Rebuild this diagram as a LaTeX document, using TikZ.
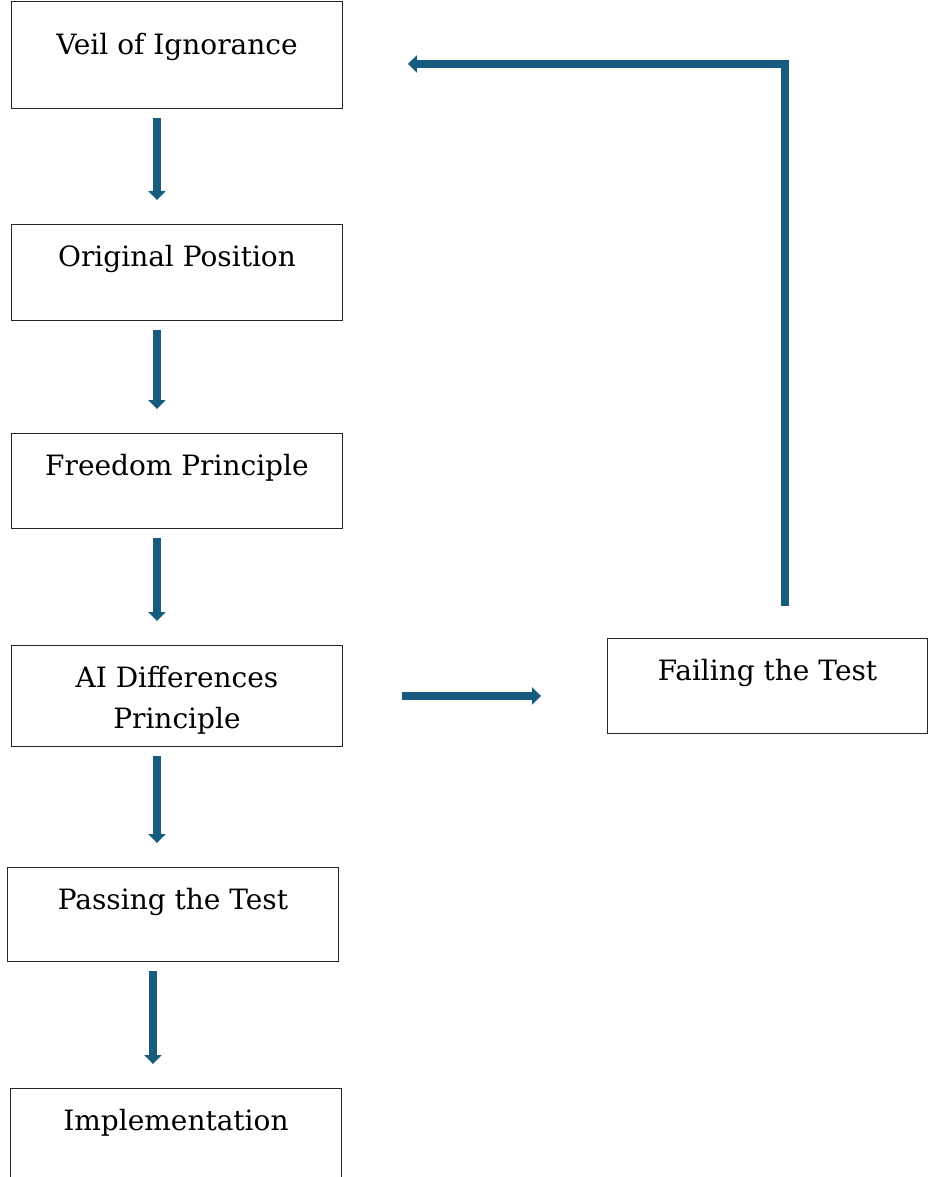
\documentclass[tikz,border=0pt]{standalone}
\usepackage{fontspec}
\setmainfont{DejaVu Serif}
\usepackage{tikz}
\usetikzlibrary{arrows.meta,positioning,calc}

\definecolor{flowblue}{HTML}{175C7E}

\tikzset{
  stepbox/.style={draw=black!85, line width=0.9pt, minimum width=331pt, minimum height=95pt, anchor=north west, inner sep=0pt},
  boxtext/.style={anchor=base, font=\fontsize{28}{41}\selectfont, align=center, inner sep=0pt},
  flow/.style={draw=flowblue, line width=8pt, line join=miter, -{Triangle[width=17pt,length=9pt]}},
}

\begin{document}
\begin{tikzpicture}[x=1pt,y=-1pt]
    \useasboundingbox (0,0) rectangle (928,1177);

    % Main column
    \node[stepbox, minimum height=107pt] (veil) at (11,1) {};
    \node[boxtext] (veiltxt) at ([yshift=-54pt]veil.north) {Veil of Ignorance};

    \node[stepbox, minimum height=96pt] (orig) at (11,224) {};
    \node[boxtext] (origtxt) at ([yshift=-42pt]orig.north) {Original Position};

    \node[stepbox] (free) at (11,433) {};
    \node[boxtext] (freetxt) at ([yshift=-42pt]free.north) {Freedom Principle};

    \node[stepbox, minimum height=101pt] (aidp) at (11,645) {};
    \node[boxtext] (aidptxt) at ([yshift=-83pt]aidp.north) {AI Differences\\Principle};

    \node[stepbox, minimum height=94pt] (pass) at (7,867) {};
    \node[boxtext] (passtxt) at ([yshift=-42pt]pass.north) {Passing the Test};

    \node[stepbox, minimum height=100pt] (impl) at (10,1088) {};
    \node[boxtext] (impltxt) at ([yshift=-42pt]impl.north) {Implementation};

    % Side box
    \node[stepbox, minimum width=320pt] (fail) at (607,638) {};
    \node[boxtext] (failtxt) at ([yshift=-42pt]fail.north) {Failing the Test};

    % Down arrows
    \foreach \a/\b in {veil/orig, orig/free, free/aidp, aidp/pass, pass/impl}
        \draw[flow] ($(\a.south)+(-20,9)$) -- ($(\a.south |- \b.north)+(-20,-24)$);

    % To the failing box
    \draw[flow, shorten <=59pt, shorten >=66pt] (aidp.east) -- (aidp.east -| fail.west);

    % Back to the start
    \draw[flow] ([xshift=18pt,yshift=32pt]fail.north) |- ([xshift=65pt,yshift=-9pt]veil.east);
\end{tikzpicture}
\end{document}
